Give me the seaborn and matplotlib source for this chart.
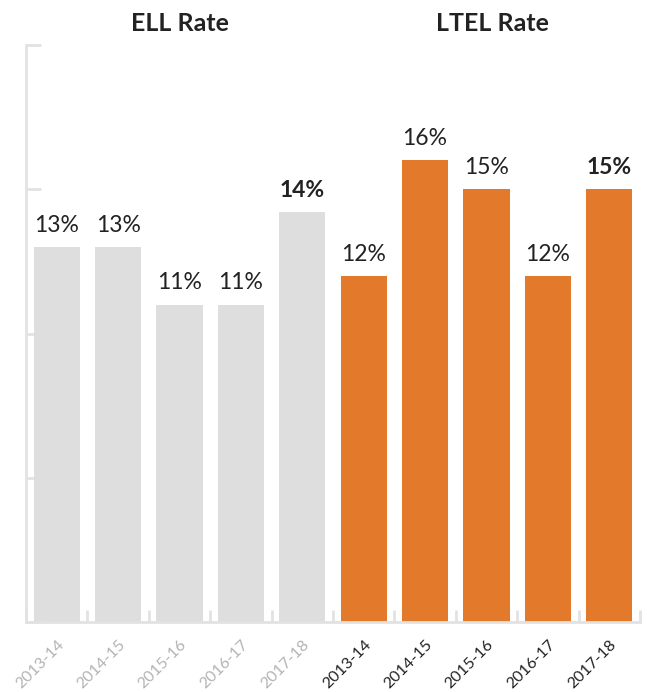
import matplotlib
matplotlib.use("Agg")
import matplotlib.pyplot as plt
import seaborn as sns
import pandas as pd

# --- data -------------------------------------------------------------
years = ["2013-14", "2014-15", "2015-16", "2016-17", "2017-18"]
ell_rate = [13.0, 13.0, 11.0, 11.0, 14.2]
ltel_rate = [12.0, 16.0, 15.0, 12.0, 15.0]
group_titles = ["ELL Rate", "LTEL Rate"]
y_ticks = [0, 5, 10, 15, 20]

GREY = "#DEDEDF"
ORANGE = "#E37A2B"
AXIS = "#E2E2E2"
TEXT = "#222222"
MUTED = "#B3B3B3"

df = pd.DataFrame({
    "key": [f"ELL {y}" for y in years] + [f"LTEL {y}" for y in years],
    "year": years + years,
    "rate": ell_rate + ltel_rate,
    "group": ["ELL"] * len(years) + ["LTEL"] * len(years),
})

sns.set_theme(style="white")
plt.rcParams["font.family"] = ["Lato", "DejaVu Sans"]

fig = plt.figure(figsize=(6.47, 6.92), dpi=100)
ax = fig.add_axes([26 / 647, 1 - 622 / 692, 614 / 647, 577 / 692])

palette = {k: (GREY if g == "ELL" else ORANGE) for k, g in zip(df["key"], df["group"])}
sns.barplot(data=df, x="key", y="rate", hue="key", palette=palette,
            order=list(df["key"]), width=0.75, legend=False, ax=ax,
            saturation=1, edgecolor="none")

ax.set_xlim(-0.5, len(df) - 0.5)
ax.set_ylim(0, 20)
ax.set_xlabel("")
ax.set_ylabel("")

# value labels; the latest year in each group is emphasised
n = len(years)
for i, (patch, v) in enumerate(zip(ax.patches, df["rate"])):
    bold = (i % n) == n - 1
    ax.annotate(f"{round(v)}%",
                xy=(patch.get_x() + patch.get_width() / 2, patch.get_height()),
                xytext=(0, 11), textcoords="offset points",
                ha="center", va="baseline", fontsize=16.5, color=TEXT,
                fontweight="bold" if bold else "normal")

# group titles
for j, title in enumerate(group_titles):
    ax.text(j * n + (n - 1) / 2 + 0.1 * j, 1.037, title,
            transform=ax.get_xaxis_transform(), ha="center", va="center",
            fontsize=18, fontweight="bold", color=TEXT)

# axes styling
for side in ("top", "right"):
    ax.spines[side].set_visible(False)
for side in ("left", "bottom"):
    ax.spines[side].set_color(AXIS)
    ax.spines[side].set_linewidth(2)

ax.set_yticks(y_ticks)
ax.set_yticklabels([])
ax.tick_params(axis="y", direction="in", length=11, width=2, color=AXIS, left=True)

ax.set_xticks([x - 0.5 for x in range(len(df) + 1)], minor=True)
ax.tick_params(axis="x", which="minor", direction="in", length=9, width=2,
               color=AXIS, bottom=True)
ax.set_xticks(range(len(df)))
ax.set_xticklabels(df["year"], rotation=45, ha="right", rotation_mode="anchor",
                   fontsize=11.5)
ax.tick_params(axis="x", which="major", length=0, pad=11)
for lbl, g in zip(ax.get_xticklabels(), df["group"]):
    lbl.set_color(MUTED if g == "ELL" else TEXT)

fig.savefig("out.png", dpi=100, facecolor="white")
